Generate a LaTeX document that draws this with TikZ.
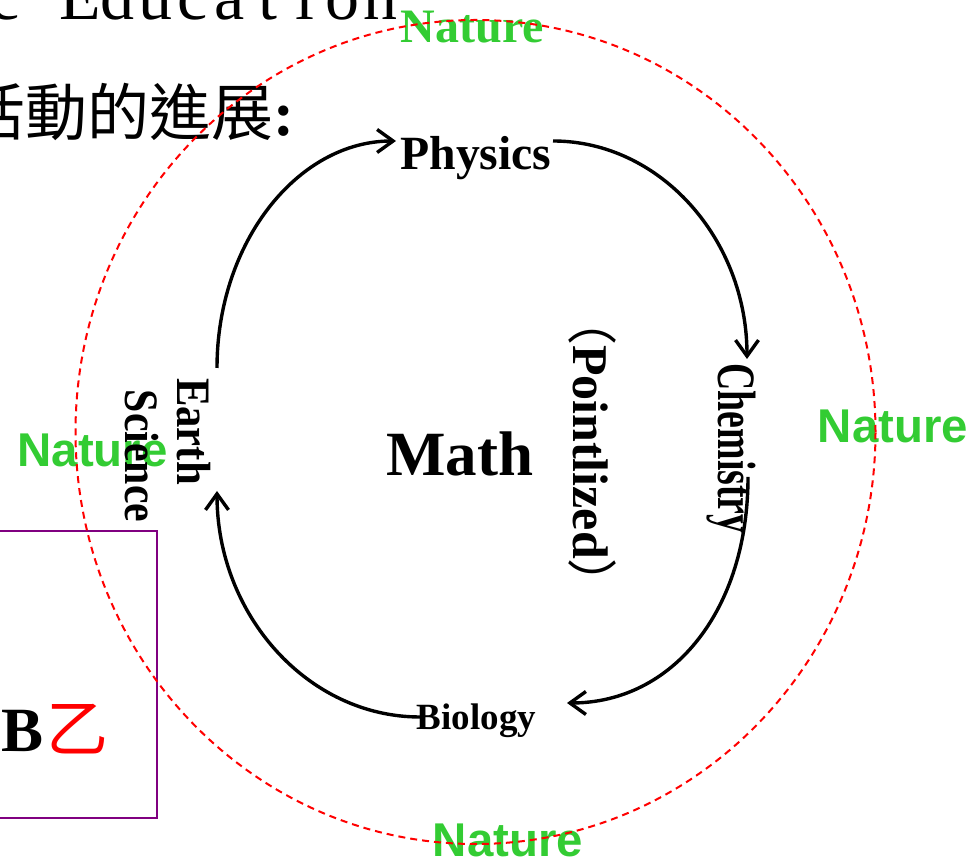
\documentclass[tikz,border=0pt]{standalone}
\usepackage{fontspec}
\setmainfont{Liberation Serif}
\newfontfamily\sansfam{Liberation Sans}
\newfontfamily\cjk{Noto Sans CJK TC}
\usetikzlibrary{arrows.meta}
\definecolor{natgreen}{RGB}{51,204,51}
\definecolor{boxpurple}{RGB}{128,0,128}
\newcommand\mch[1]{\makebox[37.5pt]{#1}}
\begin{document}
\begin{tikzpicture}[x=1pt,y=1pt,
  lbl/.style={inner sep=0pt, anchor=base},
  vlbl/.style={inner sep=0pt, anchor=base, rotate=-90},
  nat/.style={inner sep=0pt, anchor=base, text=natgreen, font=\sansfam\bfseries\fontsize{47.4}{50}\selectfont},
  cyc/.style={line width=3.4pt, -{Straight Barb[length=16pt,width=23pt]}},
  ring/.style={red, line width=2pt, dash pattern=on 7pt off 5pt}
  ]
\useasboundingbox (0,0) rectangle (971,861);
\clip (0,0) rectangle (971,861);

% header texts (cut by the frame)
\node[lbl, font=\fontsize{68}{70}\selectfont] (title) at (192.5,841)
  {\mch{c}\mch{ }\mch{E}\mch{d}\mch{u}\mch{c}\mch{a}\mch{t}\mch{i}\mch{o}\mch{n}};
\node[inner sep=0pt, anchor=base east] (sub) at (295,725)
  {{\cjk\fontsize{62}{64}\selectfont 活動的進展}{\bfseries\fontsize{63}{64}\selectfont :}};

% purple box at lower left
\node[draw=boxpurple, line width=2pt, minimum width=167pt, minimum height=287pt, inner sep=0pt] (box) at (73.5,186.5) {};
\node[inner sep=0pt, anchor=base west] (bz) at (1,109)
  {\bfseries\fontsize{63}{64}\selectfont B\kern3pt{\cjk\mdseries\color{red}\fontsize{62}{64}\selectfont 乙}};

% Nature labels
\node[nat, font=\rmfamily\bfseries\fontsize{48}{50}\selectfont] (natT) at (472.5,818) {Nature};
\node[nat] (natR) at (893,418) {Nature};
\node[nat] (natL) at (92.5,394) {Nature};
\node[nat] (natB) at (508,4) {Nature};

% subject labels
\node[lbl, font=\bfseries\fontsize{47.7}{50}\selectfont] (physics) at (476,691) {Physics};
\node[lbl, font=\bfseries\fontsize{63}{66}\selectfont] (math) at (460,385) {Math};
\node[lbl, font=\bfseries\fontsize{37}{40}\selectfont] (biology) at (476.5,131) {Biology};
\node[vlbl, font=\bfseries\fontsize{54}{56}\selectfont] (chem) at (718,412.5) {\scalebox{0.7}[1]{Chemistry}};
\node[vlbl, font=\bfseries\fontsize{50}{52}\selectfont] (pointl) at (573,409) {{\cjk\mdseries （}Pointlized{\cjk\mdseries ）}};
\node[vlbl, font=\bfseries\fontsize{48}{50}\selectfont] (earth) at (177,429.5) {\scalebox{0.89}[1]{Earth}};
\node[vlbl, font=\bfseries\fontsize{48}{50}\selectfont] (science) at (125,405) {\scalebox{0.87}[1]{Science}};

% dashed ring
\draw[ring] (475.5,429) ellipse [x radius=400, y radius=412];

% cycle arrows
\coordinate (a1s) at (217,493);
\coordinate (a1e) at (396,720);
\coordinate (a2s) at (553,720);
\coordinate (a2e) at (747,502);
\coordinate (a3s) at (748,384);
\coordinate (a3e) at (567,158);
\coordinate (a4s) at (420,144);
\coordinate (a4e) at (217,370);
\draw[cyc] (a1s) .. controls +(0,126) and +(-98,0) .. (a1e);
\draw[cyc] (a2s) .. controls +(107,0) and +(0,120) .. (a2e);
\draw[cyc] (a3s) .. controls +(0,-133) and +(106,0) .. (a3e);
\draw[cyc] (a4s) .. controls +(-112,0) and +(0,-124) .. (a4e);
\end{tikzpicture}
\end{document}
